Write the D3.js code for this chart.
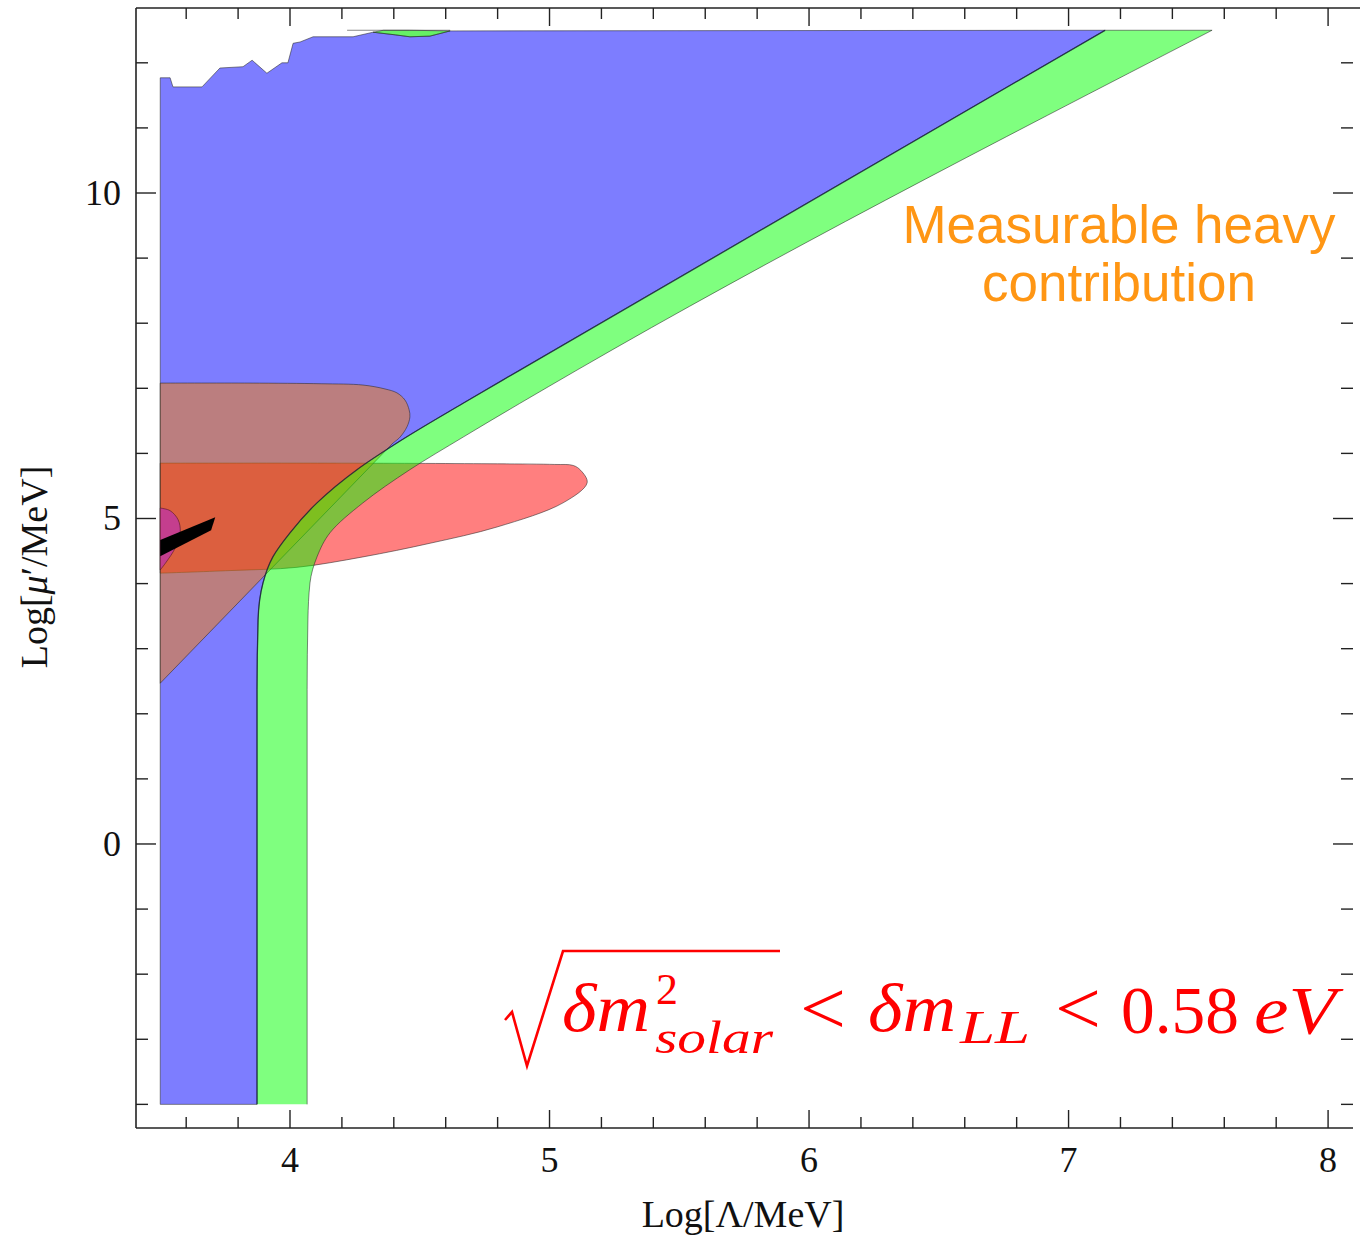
<!DOCTYPE html>
<html>
<head>
<meta charset="utf-8">
<script src="https://cdn.jsdelivr.net/npm/d3@7"></script>
<style>
  html, body { margin: 0; padding: 0; background: #fff; }
  svg { display: block; }
</style>
</head>
<body>
<svg id="chart" width="1364" height="1235"></svg>
<script>
// ---------------- DATA (log10 Λ/MeV , log10 μ'/MeV) ----------------
const xTickValues = [4, 5, 6, 7, 8];
const yTickValues = [0, 5, 10];
const xLabel = "Log[Λ/MeV]";

// green band (edges, bottom -> top)
const greenLeft = [[3.873,-4.0],[3.873,2.37],[3.877,3.44],[3.896,4.01],[3.934,4.41],[4.0,4.78],
  [4.104,5.24],[4.258,5.75],[4.412,6.16],[4.667,6.77],[4.886,7.28],[7.141,12.5]];
const greenRight = [[4.066,-4.0],[4.066,2.37],[4.069,3.44],[4.077,4.01],[4.104,4.41],[4.154,4.78],
  [4.281,5.24],[4.462,5.75],[4.667,6.25],[5.106,7.28],[7.553,12.5]];

// blue region: bottom-left corner, then green left edge, then ragged top (right -> left)
const blueBottomLeft = [[3.5,-4.0]];
const blueTop = [[7.141,12.5],[4.617,12.49],[4.539,12.41],[4.462,12.40],[4.405,12.43],[4.320,12.47],
  [4.243,12.40],[4.089,12.40],[4.039,12.32],[4.012,12.30],[3.992,12.0],[3.969,12.0],[3.911,11.84],
  [3.854,12.04],[3.819,11.94],[3.730,11.92],[3.661,11.63],[3.549,11.63],[3.538,11.77],[3.5,11.77]];

// small green lens at the top edge
const greenLens = [[4.320,12.47],[4.405,12.43],[4.462,12.40],[4.539,12.41],[4.617,12.49],[4.46,12.5],[4.36,12.5]];
const topStub = [[4.220,12.5],[4.617,12.5]];

// orange (brownish over blue) region: rounded part, then straight lower edge back to left axis
const orangeCurve = [[3.5,7.08],[3.846,7.08],[4.12,7.07],[4.281,7.05],[4.366,6.99],
  [4.412,6.93],[4.443,6.82],[4.459,6.67],[4.462,6.56],[4.451,6.41],[4.424,6.25],[4.397,6.16]];
const orangeBase = [[3.5,2.47]];

// red region
const redRegion = [[3.5,5.85],[4.2,5.85],[4.8,5.84],[5.02,5.83],[5.091,5.815],[5.12,5.74],[5.145,5.55],
  [5.052,5.24],[4.798,4.87],[4.540,4.62],[4.281,4.41],[4.027,4.25],[3.769,4.20],[3.5,4.16]];

// magenta blob and black wedge
const magentaRegion = [[3.5,5.16],[3.538,5.12],[3.569,4.98],[3.577,4.79],[3.558,4.55],[3.523,4.33],[3.5,4.21]];
const blackRegion = [[3.5,4.67],[3.712,5.02],[3.696,4.82],[3.5,4.42]];

// ---------------- CHART ----------------
const svg = d3.select("#chart");
const x = d3.scaleLinear().domain([3.4066, 8.096]).range([136, 1353]);
const y = d3.scaleLinear().domain([-4.363, 12.842]).range([1128, 8]);

function seg(pts, curve) {
  return d3.line().x(d => x(d[0])).y(d => y(d[1])).curve(curve || d3.curveLinear)(pts);
}
function joinPath(parts) {
  return parts.map((p, i) => i === 0 ? p : "L" + p.slice(1)).join("") + "Z";
}

const g = svg.append("g");
const edge = "rgba(40,40,40,0.55)";

// blue
const bluePath = joinPath([
  seg(blueBottomLeft),
  seg(greenLeft, d3.curveMonotoneY),
  seg(blueTop)
]);
g.append("path").attr("d", bluePath)
  .attr("fill", "rgb(0,0,255)").attr("fill-opacity", 0.51)
  .attr("stroke", edge).attr("stroke-width", 1);

// red
g.append("path").attr("d", seg(redRegion, d3.curveCatmullRom.alpha(0.5)) + "Z")
  .attr("fill", "rgb(255,0,0)").attr("fill-opacity", 0.5)
  .attr("stroke", edge).attr("stroke-width", 1);

// orange
g.append("path").attr("d", joinPath([seg(orangeCurve, d3.curveCatmullRom.alpha(0.5)), seg(orangeBase)]))
  .attr("fill", "rgb(250,128,0)").attr("fill-opacity", 0.5)
  .attr("stroke", edge).attr("stroke-width", 1);

// green band
const greenPath = joinPath([
  seg(greenLeft, d3.curveMonotoneY),
  seg(greenRight.slice().reverse(), d3.curveMonotoneY)
]);
g.append("path").attr("d", greenPath)
  .attr("fill", "rgb(0,255,0)").attr("fill-opacity", 0.5)
  .attr("stroke", "none");
g.append("path").attr("d", seg(greenLeft, d3.curveMonotoneY)).attr("fill", "none")
  .attr("stroke", "rgba(20,20,60,0.75)").attr("stroke-width", 1.3);
g.append("path").attr("d", seg(greenRight, d3.curveMonotoneY)).attr("fill", "none")
  .attr("stroke", edge).attr("stroke-width", 1);
g.append("path").attr("d", seg([greenLeft[greenLeft.length-1], greenRight[greenRight.length-1]]))
  .attr("fill", "none").attr("stroke", edge).attr("stroke-width", 1);

// green lens + stub at top
g.append("path").attr("d", seg(greenLens) + "Z")
  .attr("fill", "rgb(0,230,0)").attr("fill-opacity", 0.6)
  .attr("stroke", edge).attr("stroke-width", 1);
g.append("path").attr("d", seg(topStub)).attr("fill", "none")
  .attr("stroke", "rgba(60,60,60,0.6)").attr("stroke-width", 1);

// magenta
g.append("path").attr("d", seg(magentaRegion, d3.curveCatmullRom.alpha(0.5)) + "Z")
  .attr("fill", "rgb(196,62,142)").attr("stroke", "rgba(80,20,40,0.6)").attr("stroke-width", 1);
// black
g.append("path").attr("d", seg(blackRegion) + "Z").attr("fill", "#000");

// ---------------- FRAME & TICKS ----------------
const axisColor = "#222";
const frame = svg.append("g").attr("stroke", axisColor).attr("stroke-width", 1.6).attr("fill", "none");
frame.append("line").attr("x1", 136).attr("x2", 136).attr("y1", 8).attr("y2", 1128);
frame.append("line").attr("x1", 136).attr("x2", 1353).attr("y1", 1128).attr("y2", 1128);
frame.append("line").attr("x1", 136).attr("x2", 1360).attr("y1", 8).attr("y2", 8);

const xMinor = d3.range(18, 41).map(i => i / 5).filter(v => v > 3.41 && v < 8.09);
const yMinor = d3.range(-4, 13);

const tickG = svg.append("g").attr("stroke", axisColor).attr("stroke-width", 1.4);
xMinor.forEach(v => {
  const major = Math.abs(v - Math.round(v)) < 1e-9;
  const L = major ? 18 : 11;
  tickG.append("line").attr("x1", x(v)).attr("x2", x(v)).attr("y1", 1128).attr("y2", 1128 - L);
  tickG.append("line").attr("x1", x(v)).attr("x2", x(v)).attr("y1", 8).attr("y2", 8 + L);
});
yMinor.forEach(v => {
  const major = v % 5 === 0;
  const L = major ? 20 : 12;
  tickG.append("line").attr("x1", 136).attr("x2", 136 + L).attr("y1", y(v)).attr("y2", y(v));
  tickG.append("line").attr("x1", 1353).attr("x2", 1353 - L).attr("y1", y(v)).attr("y2", y(v));
});

// tick labels
const serif = "'Liberation Serif', 'Times New Roman', serif";
svg.append("g").selectAll("text").data(xTickValues).join("text")
  .attr("x", d => x(d)).attr("y", 1172)
  .attr("text-anchor", "middle").attr("font-family", serif).attr("font-size", 36).attr("fill", "#111")
  .text(d => d);
svg.append("g").selectAll("text").data(yTickValues).join("text")
  .attr("x", 121).attr("y", d => y(d) + 12)
  .attr("text-anchor", "end").attr("font-family", serif).attr("font-size", 36).attr("fill", "#111")
  .text(d => d);

// axis titles
svg.append("text").attr("x", 743).attr("y", 1227).attr("text-anchor", "middle")
  .attr("font-family", serif).attr("font-size", 38).attr("fill", "#111").text(xLabel);
const yl = svg.append("text").attr("transform", "translate(47,567) rotate(-90)")
  .attr("text-anchor", "middle").attr("font-family", serif).attr("font-size", 38).attr("fill", "#111");
yl.append("tspan").text("Log[");
yl.append("tspan").attr("font-style", "italic").text("μ");
yl.append("tspan").text("′/MeV]");

// annotation
const ann = svg.append("text").attr("text-anchor", "middle")
  .attr("font-family", "'Liberation Sans', Arial, sans-serif").attr("font-size", 53).attr("fill", "#ff9614");
ann.append("tspan").attr("x", 1119).attr("y", 243).text("Measurable heavy");
ann.append("tspan").attr("x", 1119).attr("y", 301).text("contribution");

// formula
const red = "#ff0000";
const fg = svg.append("g").attr("fill", red).attr("font-family", serif);
fg.append("path").attr("d", "M505,1020 L512,1012 L527,1066 L563,951 L780,951")
  .attr("fill", "none").attr("stroke", red).attr("stroke-width", 2.6).attr("stroke-linejoin", "miter");
function ftext(xp, yp, size, italic, txt, len) {
  const t = fg.append("text").attr("x", xp).attr("y", yp).attr("font-size", size)
    .attr("font-style", italic ? "italic" : "normal").text(txt);
  if (len) t.attr("textLength", len).attr("lengthAdjust", "spacingAndGlyphs");
  return t;
}
ftext(562, 1031, 68, true, "δm", 88);
ftext(656, 1004, 44, false, "2");
ftext(655, 1053, 46, true, "solar", 118);
ftext(800, 1034, 76, false, "<", 46);
ftext(868, 1031, 68, true, "δm", 88);
ftext(960, 1043, 46, true, "LL", 70);
ftext(1055, 1034, 76, false, "<", 46);
ftext(1121, 1033, 68, false, "0.58", 118);
ftext(1254, 1033, 68, true, "eV", 82);
</script>
</body>
</html>
